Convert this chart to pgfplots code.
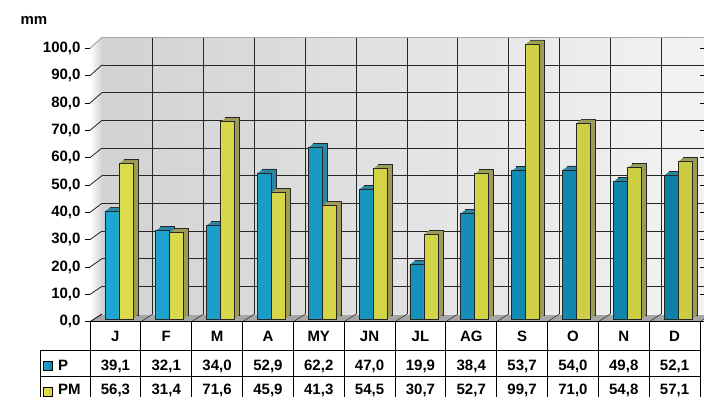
\documentclass[border=0pt]{standalone}
\usepackage{fontspec}
\setmainfont{Liberation Sans}
\usepackage{pgfplots}
\pgfplotsset{compat=1.18}
\usepackage{pgfplotstable}
\definecolor{wallL}{HTML}{D2D2D2}
\definecolor{wallR}{HTML}{F3F3F3}
\definecolor{floorC}{HTML}{A6A6A6}
\definecolor{bL}{HTML}{1EA6D2}
\definecolor{bM}{HTML}{36C8F0}
\definecolor{bR}{HTML}{0E80A6}
\definecolor{bS}{HTML}{2A86A2}
\definecolor{yL}{HTML}{E2E24A}
\definecolor{yM}{HTML}{F5F56C}
\definecolor{yR}{HTML}{D2D240}
\definecolor{yS}{HTML}{9C9C58}
\pgfplotstableread{
m P PM
0 39.1 56.3
1 32.1 31.4
2 34.0 71.6
3 52.9 45.9
4 62.2 41.3
5 47.0 54.5
6 19.9 30.7
7 38.4 52.7
8 53.7 99.7
9 54.0 71.0
10 49.8 54.8
11 52.1 57.1
}\data
\newcommand{\tbl}{\bfseries\fontsize{15}{15}\selectfont}
\pgfplotsset{
  barP/.style={ybar, bar width=14pt, table/x=m, table/y=P},
  barPM/.style={ybar, bar width=14pt, table/x=m, table/y=PM},
}
\begin{document}
\begin{tikzpicture}[x=1pt,y=1pt]
\path[use as bounding box] (0,0) rectangle (704,397);
% side wall
\shade[left color=white, right color=wallL] (90,75.3) -- (102,83) -- (102,359.7) -- (90,348.7) -- cycle;
% floor
\fill[floorC] (90,75.3) -- (700,75.3) -- (712,83) -- (102,83) -- cycle;
% back wall
\begin{axis}[at={(102pt,83pt)}, anchor=south west, scale only axis,
  width=610pt, height=276.7pt, xmin=-0.5, xmax=11.5, ymin=0, ymax=100,
  xtick={0.5,1.5,...,10.5}, ytick={10,20,...,90},
  grid=major, grid style={black!85, line width=0.8pt},
  axis line style={draw=none}, xticklabels={}, yticklabels={},
  major tick length=0pt,
  axis background/.style={left color=wallL, right color=wallR}]
\addplot[draw=none] coordinates {(0,0)};
\end{axis}
\draw[black!35, line width=1.2pt] (102,359.7) -- (712,359.7);
\draw[black!35, line width=1pt] (90,348.7) -- (102,359.7);
\foreach \k in {0,...,12} \draw[black!75, line width=0.7pt] ({90+50.833*\k},75.3) -- ({102+50.833*\k},83);
\foreach \v in {0,10,...,90} \draw[black!85, line width=0.8pt] (90,{75.3+2.734*\v}) -- (102,{83+2.767*\v});
% bars
\begin{axis}[at={(96pt,78pt)}, anchor=south west, scale only axis,
  width=610pt, height=276pt, xmin=-0.5, xmax=11.5, ymin=0, ymax=100,
  hide axis, clip=false]
% P: depth sweep (back to front), then front face
\addplot[barP, bar shift=-4.5pt, yshift=4pt, fill=bS, draw=black!85, line width=0.6pt] table{\data};
\addplot[barP, bar shift=-5.5pt, yshift=3.2pt, fill=bS, draw=none] table{\data};
\addplot[barP, bar shift=-6.5pt, yshift=2.4pt, fill=bS, draw=none] table{\data};
\addplot[barP, bar shift=-7.5pt, yshift=1.6pt, fill=bS, draw=none] table{\data};
\addplot[barP, bar shift=-8.5pt, yshift=0.8pt, fill=bS, draw=none] table{\data};
\addplot[barP, bar shift=-9.5pt, left color=bL, middle color=bM, right color=bR, draw=black!85, line width=0.6pt] table{\data};
% PM
\addplot[barPM, bar shift=9.5pt, yshift=4pt, fill=yS, draw=black!85, line width=0.6pt] table{\data};
\addplot[barPM, bar shift=8.5pt, yshift=3.2pt, fill=yS, draw=none] table{\data};
\addplot[barPM, bar shift=7.5pt, yshift=2.4pt, fill=yS, draw=none] table{\data};
\addplot[barPM, bar shift=6.5pt, yshift=1.6pt, fill=yS, draw=none] table{\data};
\addplot[barPM, bar shift=5.5pt, yshift=0.8pt, fill=yS, draw=none] table{\data};
\addplot[barPM, bar shift=4.5pt, left color=yL, middle color=yM, right color=yR, draw=black!85, line width=0.6pt, fill opacity=0.9] table{\data};
\end{axis}
% front axis: y ticks
\begin{axis}[at={(90pt,75.3pt)}, anchor=south west, scale only axis,
  width=610pt, height=273.4pt, xmin=-0.5, xmax=11.5, ymin=0, ymax=100,
  axis line style={draw=none}, xtick=\empty, ytick={0,10,...,100},
  tick align=outside, major tick length=5pt,
  ytick style={black, line width=0.8pt},
  yticklabel style={font=\tbl, xshift=-1pt},
  /pgf/number format/.cd, fixed, fixed zerofill, precision=1, use comma, assume math mode=true]
\addplot[draw=none] coordinates {(0,0)};
\end{axis}
\node[font=\tbl, anchor=base west] at (17,372) {mm};
% table
\draw[black, line width=0.9pt] (90,75.3) -- (700,75.3);
\draw[black, line width=0.9pt] (40,47) -- (700,47);
\draw[black, line width=0.9pt] (40,21) -- (700,21);
\draw[black, line width=0.9pt] (40,47) -- (40,0);
\foreach \k in {0,...,12} \draw[black, line width=0.9pt] ({90+50.833*\k},75.3) -- ({90+50.833*\k},0);
\foreach \lab [count=\i from 0] in {J,F,M,A,MY,JN,JL,AG,S,O,N,D}
  \node[font=\tbl, anchor=base] at ({90+50.833*(\i+0.5)},55.3) {\lab};
\foreach \i in {0,...,11}{
  \pgfplotstablegetelem{\i}{P}\of\data
  \node[font=\tbl, anchor=base] at ({90+50.833*(\i+0.5)},27) {\pgfmathprintnumber[fixed, fixed zerofill, precision=1, use comma, assume math mode=true]{\pgfplotsretval}};
  \pgfplotstablegetelem{\i}{PM}\of\data
  \node[font=\tbl, anchor=base] at ({90+50.833*(\i+0.5)},2.5) {\pgfmathprintnumber[fixed, fixed zerofill, precision=1, use comma, assume math mode=true]{\pgfplotsretval}};
}
% legend keys
\shade[left color=bL, right color=bR, draw=black, line width=0.6pt] (43.5,26.5) rectangle (52.5,35.5);
\shade[left color=yL, right color=yR, draw=black, line width=0.6pt] (43.5,1) rectangle (52.5,10);
\node[font=\tbl, anchor=base west, inner sep=0pt] at (58,27) {P};
\node[font=\tbl, anchor=base west, inner sep=0pt] at (58,2.5) {PM};
\end{tikzpicture}
\end{document}
